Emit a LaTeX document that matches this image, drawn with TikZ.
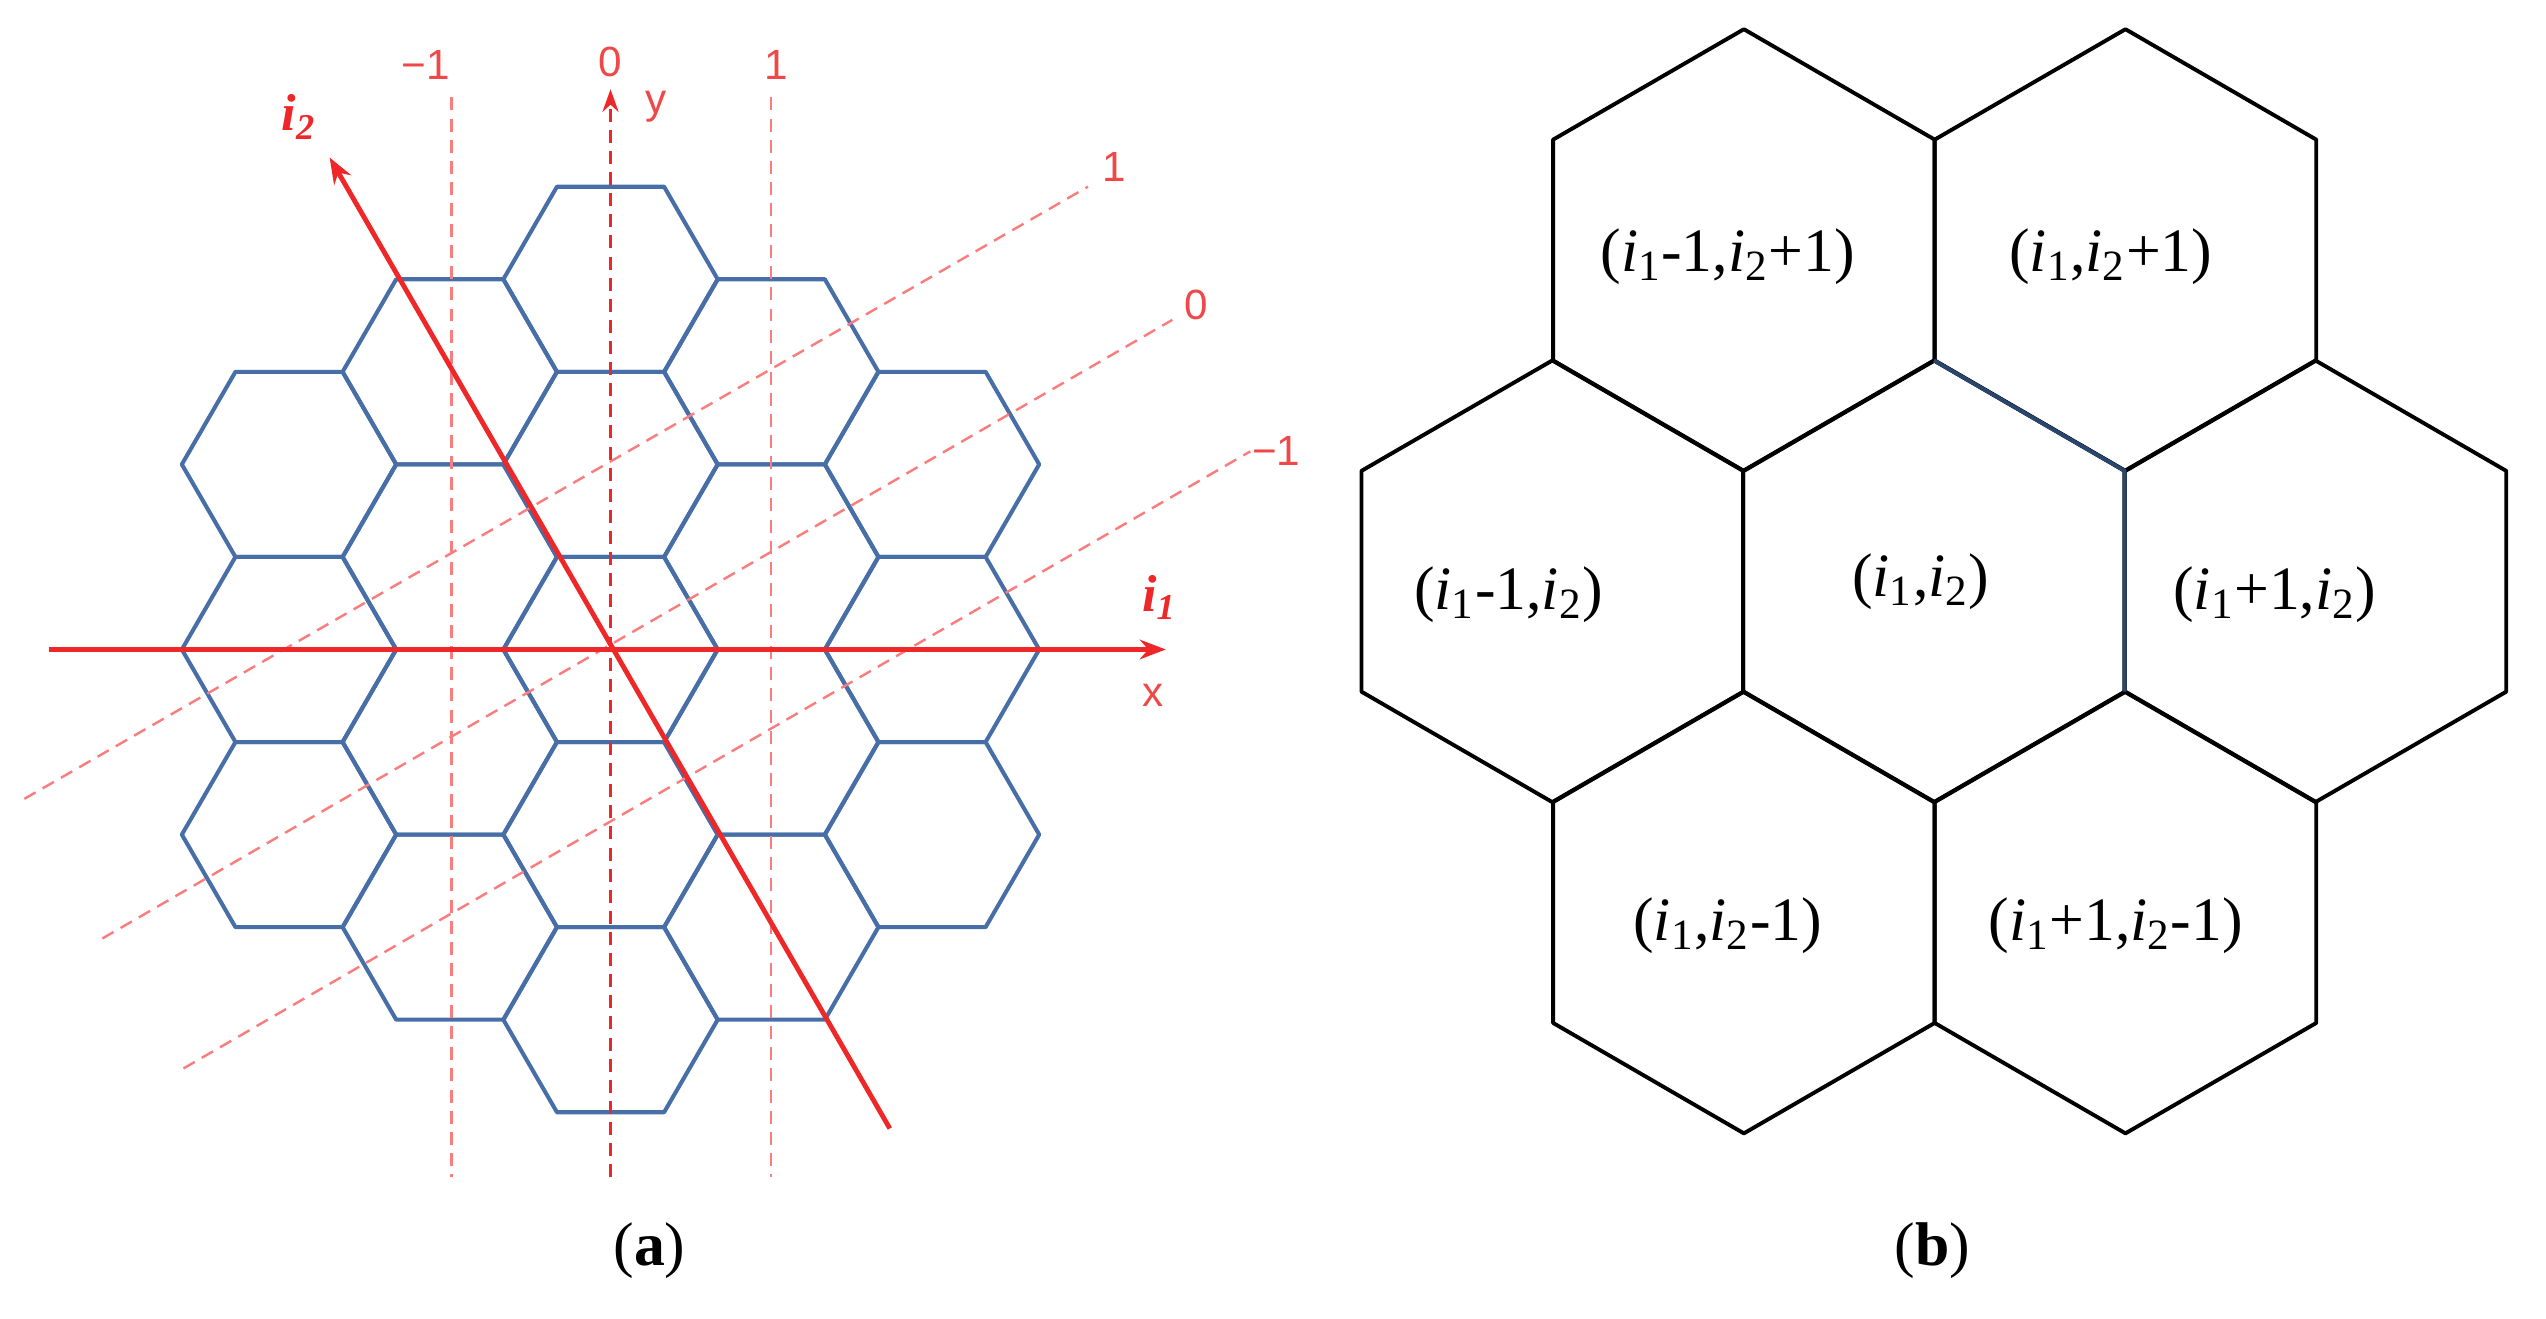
\documentclass[tikz,border=0pt]{standalone}
\usepackage{fontspec}
\setmainfont{Liberation Serif}
\setsansfont{Liberation Sans}
\usetikzlibrary{arrows.meta}
\definecolor{hexblue}{RGB}{72,110,168}
\definecolor{axred}{RGB}{238,40,40}
\definecolor{dashred}{RGB}{250,125,125}
\definecolor{edgeblue}{RGB}{40,70,110}
\tikzset{hexa/.style={draw=hexblue,line width=1.25pt,line join=round},
 axis/.style={draw=axred,line width=1.5pt,-{Stealth[length=8pt,width=6pt]}},
 dline/.style={draw=dashred,line width=0.75pt,dash pattern=on 4pt off 2.5pt},
 rlab/.style={text=axred!85,font=\sffamily\fontsize{13}{13}\selectfont},
 hexb/.style={draw=black,line width=1.2pt,line join=round},
 blab/.style={font=\rmfamily\fontsize{19}{19}\selectfont}}
\begin{document}
\begin{tikzpicture}[x=0.5pt,y=-0.5pt]
\useasboundingbox (0,0) rectangle (1568,812);
% panel (a) hexagons
\foreach \q in {-2,...,2}{\foreach \r in {-2,...,2}{
 \pgfmathtruncatemacro\s{abs(\q+\r)}
 \ifnum\s<3
 \pgfmathsetmacro\cx{376+99*\q}
 \pgfmathsetmacro\cy{400+114*(\r+0.5*\q)}
 \draw[hexa] (\cx+66,\cy) -- (\cx+33,\cy-57) -- (\cx-33,\cy-57) -- (\cx-66,\cy) -- (\cx-33,\cy+57) -- (\cx+33,\cy+57) -- cycle;
 \fi}}
% dashed lines
\draw[dline] (278,60) -- (278,725);
\draw[dline] (475,60) -- (475,725);
\draw[dline,-{Stealth[length=7pt,width=5pt]},draw=axred] (376,725) -- (376,55);
\draw[dline] (15,492) -- (670,115);
\draw[dline] (63,578) -- (722,197);
\draw[dline] (113,658) -- (770,278);
\node[rlab] at (262,40) {−1};
\node[rlab] at (376,38) {0};
\node[rlab] at (478,40) {1};
\node[rlab] at (404,66) {y};
\node[rlab] at (686,103) {1};
\node[rlab] at (737,188) {0};
\node[rlab] at (786,278) {−1};
% axes
\draw[axis] (30,400) -- (718,400);
\draw[axis] (548,695) -- (203,97);
\node[text=axred,font=\rmfamily\bfseries\itshape\fontsize{16}{16}\selectfont] at (714,368) {i\textsubscript{1}};
\node[rlab] at (710,428) {x};
\node[text=axred,font=\rmfamily\bfseries\itshape\fontsize{16}{16}\selectfont] at (184,72) {i\textsubscript{2}};
% panel (b)
\foreach \cx/\cy in {1191/358,956/358,1426/358,1074/154,1309/154,1074/562,1309/562}{
 \draw[hexb] (\cx,\cy-136) -- (\cx+117.5,\cy-68) -- (\cx+117.5,\cy+68) -- (\cx,\cy+136) -- (\cx-117.5,\cy+68) -- (\cx-117.5,\cy-68) -- cycle;}
\draw[draw=edgeblue,line width=1.2pt,line join=round] (1191,222) -- (1308.5,290) -- (1308.5,426);
\node[blab] at (1064,158) {(\textit{i}\textsubscript{1}-1,\textit{i}\textsubscript{2}+1)};
\node[blab] at (1300,158) {(\textit{i}\textsubscript{1},\textit{i}\textsubscript{2}+1)};
\node[blab] at (929,366) {(\textit{i}\textsubscript{1}-1,\textit{i}\textsubscript{2})};
\node[blab] at (1183,358) {(\textit{i}\textsubscript{1},\textit{i}\textsubscript{2})};
\node[blab] at (1401,366) {(\textit{i}\textsubscript{1}+1,\textit{i}\textsubscript{2})};
\node[blab] at (1064,570) {(\textit{i}\textsubscript{1},\textit{i}\textsubscript{2}-1)};
\node[blab] at (1303,570) {(\textit{i}\textsubscript{1}+1,\textit{i}\textsubscript{2}-1)};
% captions
\node[font=\rmfamily\fontsize{19}{19}\selectfont] at (400,770) {(\textbf{a})};
\node[font=\rmfamily\fontsize{19}{19}\selectfont] at (1190,770) {(\textbf{b})};
\end{tikzpicture}
\end{document}
